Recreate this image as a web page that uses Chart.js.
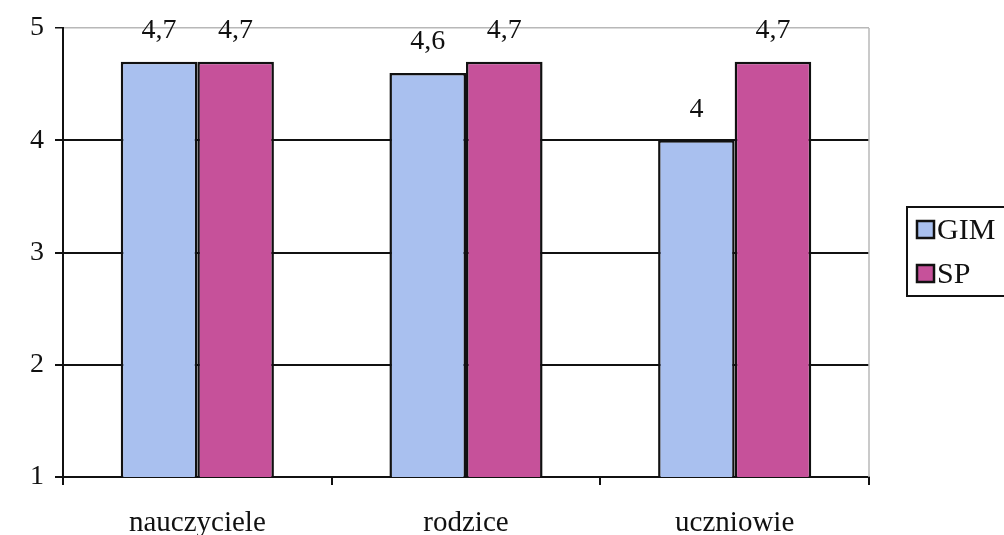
<!DOCTYPE html>
<html>
<head>
<meta charset="utf-8">
<script src="https://cdn.jsdelivr.net/npm/chart.js@4/dist/chart.umd.min.js"></script>
<style>
  html, body { margin: 0; padding: 0; background: #fff; }
  #wrap { width: 1004px; height: 535px; position: relative; }
</style>
</head>
<body>
<div id="wrap"><canvas id="c" width="1004" height="535"></canvas></div>
<script>
const categories = ['nauczyciele', 'rodzice', 'uczniowie'];
const seriesNames = ['GIM', 'SP'];
const gimValues = [4.7, 4.6, 4.0];
const spValues = [4.7, 4.7, 4.7];
const yTicks = [1, 2, 3, 4, 5];

const FONT = '"Liberation Serif", "Times New Roman", serif';
const colors = ['#a9c0ef', '#c6519a'];

const dataLabels = {
  id: 'dataLabels',
  afterDatasetsDraw(chart) {
    const ctx = chart.ctx;
    ctx.save();
    ctx.font = '28px ' + FONT;
    ctx.fillStyle = '#111';
    ctx.textAlign = 'center';
    ctx.textBaseline = 'middle';
    chart.data.datasets.forEach((ds, i) => {
      const meta = chart.getDatasetMeta(i);
      meta.data.forEach((el, j) => {
        const txt = String(ds.data[j]).replace('.', ',');
        ctx.fillText(txt, el.x, el.y - 31);
      });
    });
    ctx.restore();
  }
};

const frame = {
  id: 'frame',
  beforeDatasetsDraw(chart) {
    const ctx = chart.ctx, a = chart.chartArea;
    ctx.save();
    ctx.strokeStyle = '#b8b8b8';
    ctx.lineWidth = 1.5;
    ctx.beginPath();
    ctx.moveTo(a.right, a.top);
    ctx.lineTo(a.right, a.bottom);
    ctx.stroke();
    ctx.restore();
  },
  afterDraw(chart) {
    const ctx = chart.ctx;
    ctx.save();
    ctx.strokeStyle = '#111';
    ctx.lineWidth = 2;
    ctx.strokeRect(907, 207, 110, 89);
    ctx.font = '30px ' + FONT;
    ctx.textBaseline = 'middle';
    ctx.textAlign = 'left';
    const ys = [221, 265];
    chart.data.datasets.forEach((ds, i) => {
      ctx.fillStyle = ds.backgroundColor;
      ctx.fillRect(917, ys[i], 17, 17);
      ctx.strokeStyle = '#111';
      ctx.lineWidth = 2.5;
      ctx.strokeRect(917, ys[i], 17, 17);
      ctx.fillStyle = '#111';
      ctx.fillText(ds.label, 937, ys[i] + 10);
    });
    ctx.restore();
  }
};

new Chart(document.getElementById('c'), {
  type: 'bar',
  data: {
    labels: categories,
    datasets: [
      { label: seriesNames[0], data: gimValues, backgroundColor: colors[0], borderColor: '#111', borderWidth: 2.5 },
      { label: seriesNames[1], data: spValues, backgroundColor: colors[1], borderColor: '#111', borderWidth: 2.5 }
    ]
  },
  options: {
    responsive: false,
    animation: false,
    events: [],
    layout: { padding: { top: 28, right: 135, left: 0, bottom: 0 } },
    datasets: { bar: { categoryPercentage: 0.57, barPercentage: 1.0 } },
    plugins: { legend: { display: false }, tooltip: { enabled: false } },
    scales: {
      x: {
        afterFit(s) { s.height = 58; },
        grid: { offset: true, drawOnChartArea: false, tickLength: 8, color: '#111', lineWidth: 2 },
        border: { color: '#111', width: 2 },
        ticks: { color: '#111', font: { family: FONT, size: 29 }, padding: 21 }
      },
      y: {
        min: yTicks[0],
        max: yTicks[yTicks.length - 1],
        afterFit(s) { s.width = 63; },
        afterBuildTicks(s) { s.ticks = yTicks.map(v => ({ value: v })); },
        grid: {
          color: (c) => (c.tick && c.tick.value === 5 ? '#b8b8b8' : '#111'),
          tickColor: '#111',
          lineWidth: (c) => (c.tick && c.tick.value === 5 ? 1.5 : 2),
          tickLength: 8
        },
        border: { color: '#111', width: 2 },
        ticks: { color: '#111', font: { family: FONT, size: 28 }, padding: 11 }
      }
    }
  },
  plugins: [dataLabels, frame]
});
</script>
</body>
</html>
